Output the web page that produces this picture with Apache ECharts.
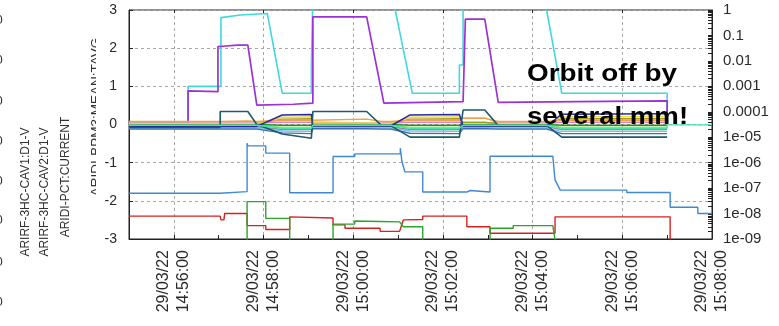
<!DOCTYPE html>
<html>
<head>
<meta charset="utf-8">
<script src="https://cdn.jsdelivr.net/npm/echarts@6/dist/echarts.min.js"></script>
<style>
  html, body { margin: 0; padding: 0; background: #fff; }
  #chart { width: 779px; height: 326px; }
</style>
</head>
<body>
<div id="chart"></div>
<script>
// Archive trend, 29/03/22 14:55 - 15:08.
// Left axis: normalised signals (-3 .. 3); right axis: log scale 1e-09 .. 1.

const DATE_LABEL = '29/03/22';
const START_TIME = '14:55:00';
const END_TIME = '15:08:00';
const xTickTimes = ['14:56:00', '14:58:00', '15:00:00', '15:02:00', '15:04:00', '15:06:00', '15:08:00'];
const yRightTickLabels = ['1e-09', '1e-08', '1e-07', '1e-06', '1e-05', '0.0001', '0.001', '0.01', '0.1', '1'];
const axisTitles = ['ARIRF-3HC-CAV1:D1-V', 'ARIRF-3HC-CAV2:D1-V', 'ARIDI-PCT:CURRENT', 'ARIDI-BPM3:MEAN:TAVG'];

// --- main traces ---
const cyanTimes  = ['14:55:00','14:56:19','14:56:19','14:57:03','14:57:03','14:57:29','14:58:05','14:58:25','14:59:04','14:59:04','14:59:06','14:59:06','15:00:52','15:01:19','15:02:22','15:02:22','15:02:27','15:02:27','15:04:15','15:04:39','15:07:00','15:07:00'];
const cyanValues = [0.06, 0.06, 1.00, 1.00, 2.80, 2.87, 2.91, 0.82, 0.82, 1.56, 1.56, 3.40, 3.40, 0.82, 0.82, 1.56, 1.56, 3.40, 3.40, 0.82, 0.82, 0.00];

const purpleTimes  = ['14:55:00','14:56:19','14:56:19','14:56:59','14:56:59','14:57:05','14:57:25','14:57:39','14:57:51','14:58:40','14:59:06','14:59:06','15:00:18','15:00:41','15:02:27','15:02:30','15:02:56','15:03:14','15:05:00','15:07:00','15:07:00'];
const purpleValues = [0.02, 0.02, 0.88, 0.86, 2.04, 2.05, 2.08, 2.08, 0.51, 0.53, 0.56, 2.82, 2.82, 0.56, 0.60, 2.76, 2.76, 0.58, 0.60, 0.62, 0.02];

const blueTimes  = ['14:55:00','14:57:02','14:57:02','14:57:38','14:57:38','14:57:39','14:58:03','14:58:03','14:58:35','14:58:35','14:59:33','14:59:33','15:00:02','15:00:02','15:01:03','15:01:03','15:01:05','15:01:09','15:01:33','15:01:33','15:02:32','15:02:32','15:02:36','15:02:36','15:03:03','15:03:03','15:04:27','15:04:30','15:04:37','15:06:06','15:06:06','15:07:04','15:07:04','15:07:41','15:07:41','15:08:00'];
const blueValues = [-1.80, -1.80, -1.76, -1.76, -0.49, -0.56, -0.56, -0.75, -0.75, -1.79, -1.79, -0.84, -0.84, -0.77, -0.77, -0.62, -0.95, -1.24, -1.24, -1.77, -1.77, -1.73, -1.73, -1.77, -1.77, -0.83, -0.83, -1.45, -1.72, -1.72, -1.78, -1.78, -2.17, -2.17, -2.33, -2.33];

const redTimes  = ['14:55:00','14:57:02','14:57:03','14:57:07','14:57:08','14:57:38','14:57:38','14:58:03','14:58:03','14:58:35','14:58:35','14:59:33','14:59:33','14:59:49','14:59:49','15:00:36','15:00:36','15:01:02','15:01:07','15:01:33','15:01:33','15:02:32','15:02:32','15:03:03','15:03:03','15:04:30','15:04:30','15:07:04','15:07:04'];
const redValues = [-2.40, -2.40, -2.50, -2.50, -2.33, -2.33, -2.65, -2.65, -2.75, -2.75, -2.42, -2.45, -2.63, -2.63, -2.72, -2.72, -2.80, -2.80, -2.50, -2.49, -2.40, -2.40, -2.68, -2.68, -2.85, -2.85, -2.42, -2.42, -3.40];

const greenTimes  = ['14:57:38','14:57:38','14:58:03','14:58:03','14:58:35','14:58:35','14:59:33','14:59:33','15:00:02','15:00:02','15:00:36','15:00:36','15:01:02','15:01:07','15:01:33','15:01:33','15:03:03','15:03:03','15:03:34','15:03:34','15:04:27','15:04:33'];
const greenValues = [-3.40, -2.02, -2.02, -2.46, -2.46, -3.40, -3.40, -2.61, -2.61, -2.53, -2.54, -2.57, -2.55, -2.68, -2.68, -3.40, -3.40, -2.72, -2.72, -2.65, -2.65, -3.40];

// --- BPM traces bunched around zero (shared sample times) ---
const bpmTimes = ['14:55:00','14:57:02','14:57:02','14:57:39','14:57:51','14:58:25','14:59:04','14:59:06','15:00:18','15:00:38','15:00:50','15:01:16','15:02:22','15:02:27','15:02:56','15:03:14','15:04:19','15:04:39','15:07:00'];
const bpmTeal      = [-0.08, -0.08,  0.34,  0.34,  0.00, -0.25, -0.36,  0.34,  0.34, -0.03, -0.03, -0.33, -0.33,  0.38,  0.38, -0.03, -0.03, -0.33, -0.33];
const bpmNavy      = [-0.05, -0.05, -0.05, -0.05, -0.05,  0.25,  0.26, -0.04, -0.04, -0.04, -0.04,  0.25,  0.26, -0.04, -0.04, -0.04, -0.04,  0.27,  0.28];
const bpmYellow    = [ 0.03,  0.03,  0.03,  0.03,  0.03,  0.19,  0.20,  0.04,  0.04,  0.03,  0.03,  0.19,  0.20,  0.18,  0.18,  0.03,  0.03,  0.20,  0.21];
const bpmOlive     = [ 0.02,  0.02,  0.02,  0.02,  0.02,  0.14,  0.15,  0.02,  0.02,  0.02,  0.02,  0.14,  0.15,  0.06,  0.06,  0.02,  0.02,  0.15,  0.15];
const bpmOrange    = [ 0.08,  0.08,  0.09,  0.09,  0.08,  0.11,  0.11,  0.14,  0.14,  0.08,  0.08,  0.11,  0.11,  0.16,  0.16,  0.08,  0.08,  0.11,  0.11];
const bpmPink      = [ 0.04,  0.04,  0.04,  0.04,  0.04,  0.06,  0.06,  0.04,  0.04,  0.04,  0.04,  0.06,  0.06,  0.05,  0.05,  0.04,  0.04,  0.06,  0.06];
const bpmGreen     = [ 0.00,  0.00,  0.00,  0.00,  0.00, -0.02, -0.02,  0.00,  0.00,  0.00,  0.00, -0.02, -0.02,  0.00,  0.00,  0.00,  0.00, -0.02, -0.02];
const bpmLime      = [-0.03, -0.03, -0.03, -0.03, -0.03, -0.07, -0.07, -0.02, -0.02, -0.03, -0.03, -0.07, -0.07, -0.02, -0.02, -0.03, -0.03, -0.07, -0.07];
const bpmGray      = [-0.06, -0.06, -0.06, -0.06, -0.06, -0.13, -0.13, -0.06, -0.06, -0.06, -0.06, -0.13, -0.13, -0.06, -0.06, -0.06, -0.06, -0.13, -0.13];
const bpmLightBlue = [-0.10, -0.10, -0.10, -0.10, -0.10, -0.17, -0.18, -0.09, -0.09, -0.10, -0.10, -0.17, -0.18, -0.09, -0.09, -0.10, -0.10, -0.18, -0.18];
const bpmBlue      = [-0.12, -0.12, -0.12, -0.12, -0.12, -0.22, -0.24, -0.11, -0.11, -0.12, -0.12, -0.23, -0.24, -0.11, -0.11, -0.12, -0.12, -0.24, -0.24];

const mintTimes  = bpmTimes.concat(['15:07:00', '15:08:00']);
const mintValues = [-0.02, -0.02, -0.02, -0.02, -0.02, -0.10, -0.10, -0.02, -0.02, -0.02, -0.02, -0.10, -0.10, -0.02, -0.02, -0.02, -0.02, -0.10, -0.10, -0.01, -0.01];

// ---------------------------------------------------------------
function toSec(t) {
  const p = t.split(':').map(Number);
  const q = START_TIME.split(':').map(Number);
  return (p[0] * 3600 + p[1] * 60 + p[2]) - (q[0] * 3600 + q[1] * 60 + q[2]);
}
function pairs(times, values) {
  return times.map((t, i) => [toSec(t), values[i]]);
}
function trace(name, times, values, color, width) {
  return {
    name, type: 'line', xAxisIndex: 0, yAxisIndex: 0,
    data: pairs(times, values),
    showSymbol: false, symbol: 'none', clip: true, silent: true,
    lineStyle: { color, width: width || 1.4 },
    itemStyle: { color }
  };
}

const xMax = toSec(END_TIME);
const minuteTicks = [];
for (let s = 0; s <= xMax; s += 60) minuteTicks.push(s);
const labelTicks = xTickTimes.map(toSec);

// decade and sub-decade tick positions for the log scale (in log10 units)
const logTicks = [0];
for (let e = -9; e < 0; e++) for (let k = 1; k <= 9; k++) logTicks.push(e + Math.log10(k));

const FONT = '"Liberation Sans", Arial, sans-serif';
const TEXT_COLOR = '#2a2a2a';
const GRID_LINE = { show: true, lineStyle: { color: '#a8a8a8', width: 1, type: [3, 3] } };

const chart = echarts.init(document.getElementById('chart'), null, { renderer: 'canvas' });

const option = {
  animation: false,
  backgroundColor: '#ffffff',
  textStyle: { fontFamily: FONT },
  grid: {
    left: 129, right: 67, top: 10, bottom: 87,
    show: true, borderColor: '#222', borderWidth: 1, backgroundColor: 'transparent'
  },
  xAxis: [
    {
      type: 'value', position: 'bottom', min: 0, max: xMax,
      axisLine: { show: true, onZero: false, lineStyle: { color: '#222' } },
      axisTick: { show: true, inside: true, length: 4, customValues: minuteTicks, lineStyle: { color: '#222' } },
      axisLabel: {
        show: true, rotate: 90, margin: 11, customValues: labelTicks,
        fontFamily: FONT, fontSize: 16, lineHeight: 20, color: TEXT_COLOR,
        formatter: v => {
          const i = labelTicks.indexOf(Math.round(v));
          return i < 0 ? '' : DATE_LABEL + '\n' + xTickTimes[i];
        }
      },
      splitLine: { show: false }
    },
    {
      type: 'value', position: 'top', min: 0, max: xMax,
      axisLine: { show: false, onZero: false },
      axisTick: { show: true, inside: true, length: 3, customValues: labelTicks, lineStyle: { color: '#222' } },
      axisLabel: { show: false },
      splitLine: GRID_LINE
    }
  ],
  yAxis: [
    {
      type: 'value', position: 'left', min: -3, max: 3, interval: 1,
      axisLine: { show: true, onZero: false, lineStyle: { color: '#222' } },
      axisTick: { show: true, inside: true, length: 4, lineStyle: { color: '#222' } },
      axisLabel: { margin: 12, fontFamily: FONT, fontSize: 14, color: TEXT_COLOR },
      splitLine: GRID_LINE
    },
    {
      type: 'value', position: 'right', min: -9, max: 0, interval: 1,
      axisLine: { show: true, onZero: false, lineStyle: { color: '#222' } },
      axisTick: { show: true, inside: true, length: 4, customValues: logTicks, lineStyle: { color: '#222' } },
      axisLabel: {
        margin: 11, fontFamily: FONT, fontSize: 15, color: TEXT_COLOR,
        formatter: v => yRightTickLabels[Math.round(v) + 9]
      },
      splitLine: { show: false }
    }
  ],
  series: [
    trace('cyan', cyanTimes, cyanValues, '#3fd9dd', 1.6),
    trace('purple', purpleTimes, purpleValues, '#9c32d6', 1.7),
    trace('blue', blueTimes, blueValues, '#3f88d2', 1.4),
    trace('red', redTimes, redValues, '#d82020', 1.4),
    trace('green', greenTimes, greenValues, '#2aa52a', 1.4),
    trace('bpm-lightblue', bpmTimes, bpmLightBlue, '#79bde8'),
    trace('bpm-gray', bpmTimes, bpmGray, '#8a93a6'),
    trace('bpm-blue', bpmTimes, bpmBlue, '#3a6fb6'),
    trace('bpm-lime', bpmTimes, bpmLime, '#8de85c'),
    trace('bpm-green', bpmTimes, bpmGreen, '#2b8a2b'),
    trace('bpm-pink', bpmTimes, bpmPink, '#e57cd8'),
    trace('bpm-olive', bpmTimes, bpmOlive, '#a0a024'),
    trace('bpm-yellow', bpmTimes, bpmYellow, '#e6dc3c'),
    trace('bpm-orange', bpmTimes, bpmOrange, '#f0a04c'),
    trace('bpm-navy', bpmTimes, bpmNavy, '#2727a8', 1.5),
    trace('bpm-teal', bpmTimes, bpmTeal, '#1f5a6a', 1.6),
    trace('bpm-mint', mintTimes, mintValues, '#42e4aa', 1.4)
  ],
  graphic: [
    // rotated signal names on the left
    { type: 'text', x: 26, y: 192, rotation: Math.PI / 2, z: 50,
      style: { text: axisTitles[0], font: '12px ' + FONT, fill: '#333', align: 'center', verticalAlign: 'middle' } },
    { type: 'text', x: 45, y: 192, rotation: Math.PI / 2, z: 50,
      style: { text: axisTitles[1], font: '12px ' + FONT, fill: '#333', align: 'center', verticalAlign: 'middle' } },
    { type: 'text', x: 66, y: 177, rotation: Math.PI / 2, z: 50,
      style: { text: axisTitles[2], font: '12px ' + FONT, fill: '#333', align: 'center', verticalAlign: 'middle' } },
    { type: 'text', x: 96, y: 117, rotation: Math.PI / 2, z: 50,
      style: { text: axisTitles[3], font: '13.5px ' + FONT, fill: '#333', align: 'center', verticalAlign: 'middle' } },
    { type: 'rect', shape: { x: 96, y: 0, width: 4, height: 240 }, z: 51, style: { fill: '#ffffff' } },
    // tick label fragments cut at the left border
    ...[20, 60, 101, 141, 181, 220, 262, 302].map(yy => ({
      type: 'text', x: -1, y: yy, z: 50,
      style: { text: '0', font: '13px ' + FONT, fill: '#333', align: 'center', verticalAlign: 'middle' }
    })),
    // annotation
    { type: 'text', x: 527, y: 75, scaleX: 1.21, z: 100,
      style: { text: 'Orbit off by', font: 'bold 23px ' + FONT, fill: '#000', align: 'left', verticalAlign: 'middle' } },
    { type: 'text', x: 527, y: 118, scaleX: 1.2, z: 100,
      style: { text: 'several mm!', font: 'bold 23px ' + FONT, fill: '#000', align: 'left', verticalAlign: 'middle' } }
  ]
};

chart.setOption(option);
</script>
</body>
</html>
